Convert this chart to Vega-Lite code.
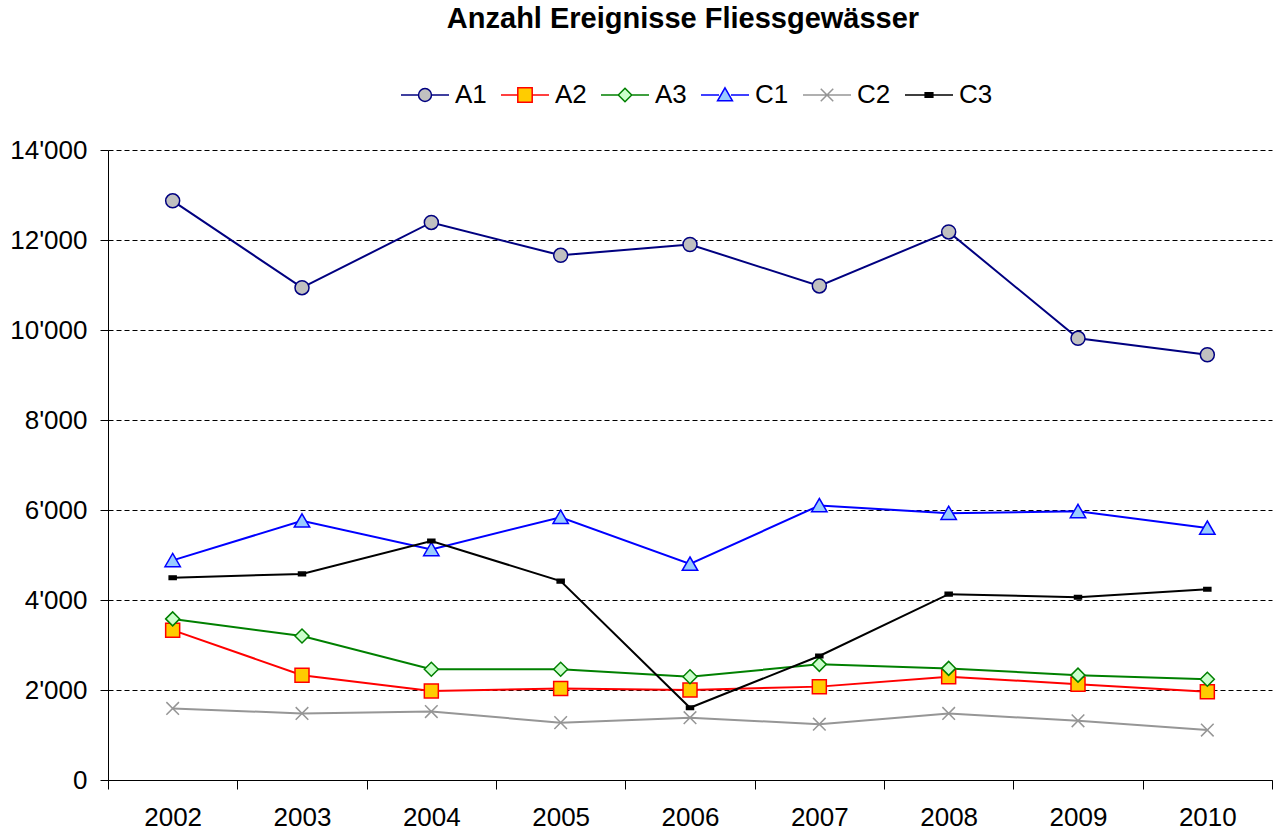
{
  "$schema": "https://vega.github.io/schema/vega-lite/v6.json",
  "width": 1164,
  "height": 630,
  "autosize": {"type": "none"},
  "padding": {"left": 108, "top": 150, "right": 7, "bottom": 53},
  "background": "white",
  "title": {"text": "Anzahl Ereignisse Fliessgewässer", "font": "Liberation Sans", "fontSize": 29, "fontWeight": "bold", "color": "black", "anchor": "middle", "offset": 36, "dx": -7},
  "config": {
    "view": {"stroke": null},
    "font": "Liberation Sans",
    "axis": {"labelFont": "Liberation Sans", "labelColor": "black", "domainColor": "black", "tickColor": "black", "domainWidth": 1, "tickWidth": 1}
  },
  "data": {"values": [
    {"year": "2002", "series": "A1", "value": 12870},
    {"year": "2003", "series": "A1", "value": 10940},
    {"year": "2004", "series": "A1", "value": 12390},
    {"year": "2005", "series": "A1", "value": 11660},
    {"year": "2006", "series": "A1", "value": 11900},
    {"year": "2007", "series": "A1", "value": 10980},
    {"year": "2008", "series": "A1", "value": 12180},
    {"year": "2009", "series": "A1", "value": 9815},
    {"year": "2010", "series": "A1", "value": 9450},
    {"year": "2002", "series": "A2", "value": 3330},
    {"year": "2003", "series": "A2", "value": 2330},
    {"year": "2004", "series": "A2", "value": 1980},
    {"year": "2005", "series": "A2", "value": 2035},
    {"year": "2006", "series": "A2", "value": 2000},
    {"year": "2007", "series": "A2", "value": 2075},
    {"year": "2008", "series": "A2", "value": 2295},
    {"year": "2009", "series": "A2", "value": 2130},
    {"year": "2010", "series": "A2", "value": 1960},
    {"year": "2002", "series": "A3", "value": 3580},
    {"year": "2003", "series": "A3", "value": 3200},
    {"year": "2004", "series": "A3", "value": 2460},
    {"year": "2005", "series": "A3", "value": 2460},
    {"year": "2006", "series": "A3", "value": 2295},
    {"year": "2007", "series": "A3", "value": 2570},
    {"year": "2008", "series": "A3", "value": 2480},
    {"year": "2009", "series": "A3", "value": 2330},
    {"year": "2010", "series": "A3", "value": 2240},
    {"year": "2002", "series": "C1", "value": 4880},
    {"year": "2003", "series": "C1", "value": 5760},
    {"year": "2004", "series": "C1", "value": 5125},
    {"year": "2005", "series": "C1", "value": 5840},
    {"year": "2006", "series": "C1", "value": 4800},
    {"year": "2007", "series": "C1", "value": 6100},
    {"year": "2008", "series": "C1", "value": 5930},
    {"year": "2009", "series": "C1", "value": 5970},
    {"year": "2010", "series": "C1", "value": 5600},
    {"year": "2002", "series": "C2", "value": 1590},
    {"year": "2003", "series": "C2", "value": 1480},
    {"year": "2004", "series": "C2", "value": 1520},
    {"year": "2005", "series": "C2", "value": 1275},
    {"year": "2006", "series": "C2", "value": 1385},
    {"year": "2007", "series": "C2", "value": 1240},
    {"year": "2008", "series": "C2", "value": 1480},
    {"year": "2009", "series": "C2", "value": 1315},
    {"year": "2010", "series": "C2", "value": 1110},
    {"year": "2002", "series": "C3", "value": 4495},
    {"year": "2003", "series": "C3", "value": 4580},
    {"year": "2004", "series": "C3", "value": 5310},
    {"year": "2005", "series": "C3", "value": 4420},
    {"year": "2006", "series": "C3", "value": 1605},
    {"year": "2007", "series": "C3", "value": 2755},
    {"year": "2008", "series": "C3", "value": 4130},
    {"year": "2009", "series": "C3", "value": 4060},
    {"year": "2010", "series": "C3", "value": 4240}
  ]},
  "encoding": {
    "x": {"field": "year", "type": "ordinal", "scale": {"type": "band", "paddingInner": 0, "paddingOuter": 0},
      "axis": {"title": null, "labelAngle": 0, "labelFontSize": 26, "labelPadding": 15, "tickSize": 9, "tickBand": "extent", "grid": false}},
    "y": {"field": "value", "type": "quantitative", "scale": {"domain": [0, 14000], "nice": false, "zero": true},
      "axis": {"title": null, "values": [0, 2000, 4000, 6000, 8000, 10000, 12000, 14000], "labelFontSize": 26, "labelPadding": 13, "tickSize": 8,
        "labelExpr": "replace(format(datum.value, ','), ',', \"'\")",
        "grid": true, "gridColor": "black", "gridDash": [5, 3], "gridWidth": 1, "gridOpacity": 1}},
    "stroke": {"field": "series", "type": "nominal",
      "scale": {"domain": ["A1", "A2", "A3", "C1", "C2", "C3"], "range": ["#000080", "#FF0000", "#008000", "#0000FF", "#969696", "#000000"]},
      "legend": {"title": null, "orient": "none", "legendX": 292, "legendY": -80, "direction": "horizontal", "columns": 6,
        "symbolSize": 2304, "symbolStrokeWidth": 1.5, "labelFontSize": 26, "labelFont": "Liberation Sans", "labelColor": "black", "labelOffset": 5, "columnPadding": 11, "padding": 0,
        "encode": {"symbols": {"update": {
          "shape": {"signal": "datum.value==='A1' ? 'M-1,0L-0.27,0M0.27,0L1,0M0.27,0A0.27,0.27,0,1,1,-0.27,0A0.27,0.27,0,1,1,0.27,0Z' : datum.value==='A2' ? 'M-1,0L-0.3,0M0.3,0L1,0M-0.3,-0.3L0.3,-0.3L0.3,0.3L-0.3,0.3Z' : datum.value==='A3' ? 'M-1,0L-0.28,0M0.28,0L1,0M0,-0.28L0.28,0L0,0.28L-0.28,0Z' : datum.value==='C1' ? 'M-1,0L-0.25,0M0.25,0L1,0M0,-0.3L0.31,0.24L-0.31,0.24Z' : datum.value==='C2' ? 'M-1,0L1,0M-0.26,-0.26L0.26,0.26M-0.26,0.26L0.26,-0.26' : 'M-1,0L1,0M-0.16,-0.09L0.16,-0.09L0.16,0.09L-0.16,0.09Z'"},
          "fill": {"signal": "datum.value==='A1' ? '#C0C0C0' : datum.value==='A2' ? '#FFCC00' : datum.value==='A3' ? '#CCFFCC' : datum.value==='C1' ? '#99CCFF' : datum.value==='C2' ? '#969696' : '#000000'"},
          "stroke": {"signal": "datum.value==='A1' ? '#000080' : datum.value==='A2' ? '#FF0000' : datum.value==='A3' ? '#008000' : datum.value==='C1' ? '#0000FF' : datum.value==='C2' ? '#969696' : '#000000'"},
          "strokeWidth": {"value": 1.5},
          "opacity": {"value": 1}
        }}}}
    }
  },
  "layer": [
    {"mark": {"type": "line", "strokeWidth": 2}},
    {"mark": {"type": "point", "filled": true, "opacity": 1, "strokeWidth": 1.5, "size": 196},
      "encoding": {
        "fill": {"field": "series", "type": "nominal", "legend": null,
          "scale": {"domain": ["C3", "C2", "C1", "A3", "A2", "A1"], "range": ["#000000", "#969696", "#99CCFF", "#CCFFCC", "#FFCC00", "#C0C0C0"]}},
        "shape": {"field": "series", "type": "nominal", "legend": null,
          "scale": {"domain": ["C3", "C2", "C1", "A3", "A2", "A1"], "range": ["M-0.5,-0.26L0.5,-0.26L0.5,0.26L-0.5,0.26Z", "M-0.9,-0.9L0.9,0.9M-0.9,0.9L0.9,-0.9", "M0,-1L1.1,0.9L-1.1,0.9Z", "diamond", "square", "circle"]}}
      }}
  ]
}
